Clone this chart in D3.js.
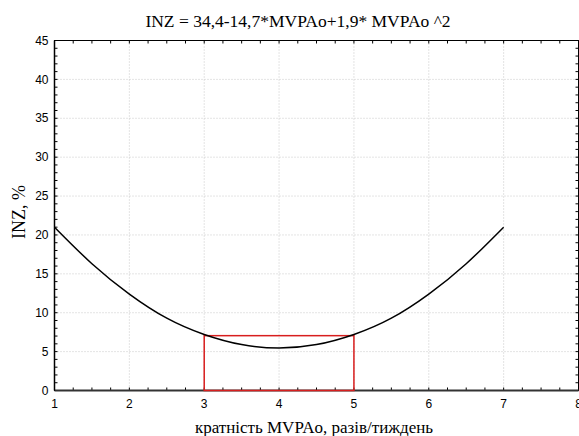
<!DOCTYPE html>
<html>
<head>
<meta charset="utf-8">
<script src="https://cdn.jsdelivr.net/npm/d3@7"></script>
<style>
  body { margin: 0; background: #fff; }
  svg { display: block; }
</style>
</head>
<body>
<script>
// values
const mvpa = [1, 1.5, 2, 2.5, 3, 3.5, 4, 4.5, 5, 5.5, 6, 6.5, 7];
const inz = [21.0, 16.3, 12.4, 9.3, 7.2, 5.9, 5.45, 5.9, 7.2, 9.3, 12.4, 16.3, 21.0];
const boxX = [3, 5];
const boxY = [0, 7.05];
const xTicks = [1, 2, 3, 4, 5, 6, 7, 8];
const yTicks = [0, 5, 10, 15, 20, 25, 30, 35, 40, 45];
const title = "INZ = 34,4-14,7*MVPAo+1,9* MVPAo ^2";
const xTitle = "кратність MVPAo, разів/тиждень";
const yTitle = "INZ, %";

const width = 579, height = 436;
const pLeft = 54.5, pRight = 578.5, pTop = 40.5, pBottom = 390.5;

const x = d3.scaleLinear().domain([1, 8]).range([pLeft, pRight]);
const y = d3.scaleLinear().domain([0, 45]).range([pBottom, pTop]);

const svg = d3.select("body").append("svg")
  .attr("width", width)
  .attr("height", height);

// grid
svg.append("g")
  .selectAll("line")
  .data(xTicks.slice(1, -1))
  .join("line")
  .attr("x1", d => x(d)).attr("x2", d => x(d))
  .attr("y1", pTop).attr("y2", pBottom)
  .attr("stroke", "#c8c8c8")
  .attr("stroke-dasharray", "1,2");

svg.append("g")
  .selectAll("line")
  .data(yTicks.slice(1, -1))
  .join("line")
  .attr("x1", pLeft).attr("x2", pRight)
  .attr("y1", d => y(d)).attr("y2", d => y(d))
  .attr("stroke", "#c8c8c8")
  .attr("stroke-dasharray", "1,2");

// inward ticks on all four sides
const xMinor = d3.range(1, 8.001, 0.25);
const yMinor = d3.range(0, 45.001, 1);

const ticks = svg.append("g").attr("stroke", "#000").attr("stroke-width", 1);
ticks.selectAll(".xb").data(xMinor).join("line")
  .attr("x1", d => x(d)).attr("x2", d => x(d))
  .attr("y1", pBottom).attr("y2", pBottom - 3);
ticks.selectAll(".xt").data(xMinor).join("line")
  .attr("x1", d => x(d)).attr("x2", d => x(d))
  .attr("y1", pTop).attr("y2", pTop + 3);
ticks.selectAll(".yl").data(yMinor).join("line")
  .attr("x1", pLeft).attr("x2", pLeft + 3)
  .attr("y1", d => y(d)).attr("y2", d => y(d));
ticks.selectAll(".yr").data(yMinor).join("line")
  .attr("x1", pRight).attr("x2", pRight - 3)
  .attr("y1", d => y(d)).attr("y2", d => y(d));

// frame
svg.append("rect")
  .attr("x", pLeft).attr("y", pTop)
  .attr("width", pRight - pLeft).attr("height", pBottom - pTop)
  .attr("fill", "none")
  .attr("stroke", "#000")
  .attr("stroke-width", 1);
svg.append("line")
  .attr("x1", pLeft).attr("x2", pRight)
  .attr("y1", pBottom).attr("y2", pBottom)
  .attr("stroke", "#333").attr("stroke-width", 2);
svg.append("line")
  .attr("x1", pLeft).attr("x2", pLeft)
  .attr("y1", pTop).attr("y2", pBottom)
  .attr("stroke", "#000").attr("stroke-width", 1.5);

// red box
svg.append("rect")
  .attr("x", x(boxX[0])).attr("y", y(boxY[1]))
  .attr("width", x(boxX[1]) - x(boxX[0]))
  .attr("height", y(boxY[0]) - y(boxY[1]))
  .attr("fill", "none")
  .attr("stroke", "#d81e1e")
  .attr("stroke-width", 1.5);

// curve
const line = d3.line()
  .x((d, i) => x(mvpa[i]))
  .y(d => y(d))
  .curve(d3.curveNatural);

svg.append("path")
  .datum(inz)
  .attr("d", line)
  .attr("fill", "none")
  .attr("stroke", "#000")
  .attr("stroke-width", 1.5);

// tick labels
svg.append("g")
  .attr("font-family", "Liberation Sans, Arial, sans-serif")
  .attr("font-size", 12)
  .attr("text-anchor", "middle")
  .selectAll("text")
  .data(xTicks)
  .join("text")
  .attr("x", d => x(d))
  .attr("y", pBottom + 17)
  .text(d => d);

svg.append("g")
  .attr("font-family", "Liberation Sans, Arial, sans-serif")
  .attr("font-size", 12)
  .attr("text-anchor", "end")
  .selectAll("text")
  .data(yTicks)
  .join("text")
  .attr("x", pLeft - 6)
  .attr("y", d => y(d))
  .attr("dy", "0.35em")
  .text(d => d);

// titles
svg.append("text")
  .attr("x", 298)
  .attr("y", 27)
  .attr("text-anchor", "middle")
  .attr("font-family", "Liberation Serif, Times New Roman, serif")
  .attr("font-size", 17.5)
  .text(title);

svg.append("text")
  .attr("x", 314)
  .attr("y", 433)
  .attr("text-anchor", "middle")
  .attr("font-family", "Liberation Serif, Times New Roman, serif")
  .attr("font-size", 17)
  .text(xTitle);

svg.append("text")
  .attr("transform", "translate(25,212) rotate(-90)")
  .attr("text-anchor", "middle")
  .attr("font-family", "Liberation Serif, Times New Roman, serif")
  .attr("font-size", 18)
  .text(yTitle);
</script>
</body>
</html>
